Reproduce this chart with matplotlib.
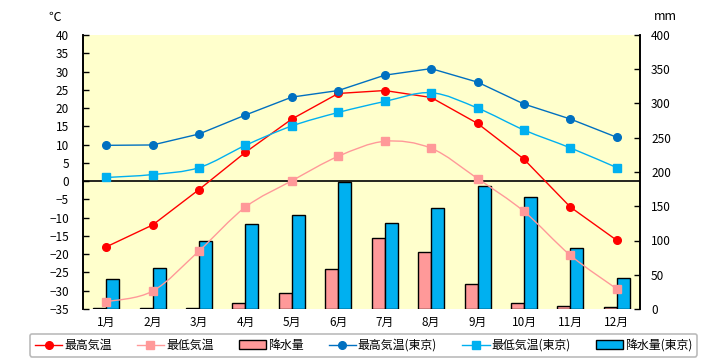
import numpy as np
import matplotlib
matplotlib.use("Agg")
import matplotlib.pyplot as plt
from matplotlib.path import Path
from matplotlib.patches import PathPatch, Patch
from matplotlib.lines import Line2D

plt.rcParams['font.family'] = ['Noto Sans CJK JP', 'DejaVu Sans']

months = ['1月', '2月', '3月', '4月', '5月', '6月', '7月', '8月', '9月', '10月', '11月', '12月']
tmax = [-18.0, -12.0, -2.3, 7.9, 17.0, 24.0, 24.8, 22.9, 15.8, 6.0, -7.1, -16.2]
tmin = [-33.0, -30.1, -19.1, -7.1, 0.1, 6.8, 10.9, 9.0, 0.7, -8.3, -20.3, -29.5]
rain = [2, 2, 2, 9, 24, 59, 103, 83, 37, 9, 4.5, 3]
tmax_tokyo = [9.8, 9.9, 12.9, 18.1, 23.0, 24.8, 29.0, 30.8, 27.1, 21.1, 17.0, 12.0]
tmin_tokyo = [1.0, 1.8, 3.7, 9.8, 15.1, 18.8, 21.8, 24.2, 20.0, 14.0, 9.1, 3.7]
rain_tokyo = [44, 60, 99, 124, 137, 185, 125, 147, 180, 163, 89, 45]

c_red = '#FF0000'
c_pink = '#FF9999'
c_blue = '#0070C0'
c_sky = '#00B0F0'


def smooth(ax, x, y, color, lw):
    # smoothed line (bezier through the points)
    x = np.asarray(x, float)
    y = np.asarray(y, float)
    p = np.column_stack((x, y))
    n = len(p)
    verts = [p[0]]
    codes = [Path.MOVETO]
    for i in range(n - 1):
        p0 = p[i - 1] if i > 0 else p[i]
        p3 = p[i + 2] if i + 2 < n else p[i + 1]
        c1 = p[i] + (p[i + 1] - p0) / 6
        c2 = p[i + 1] - (p3 - p[i]) / 6
        verts += [c1, c2, p[i + 1]]
        codes += [Path.CURVE4] * 3
    ax.add_patch(PathPatch(Path(verts, codes), fill=False, edgecolor=color,
                           lw=lw, zorder=3))


fig = plt.figure(figsize=(7.2, 3.6), dpi=100)
ax = fig.add_axes([83 / 720, 1 - 309 / 360, 557 / 720, 274 / 360])
ax2 = ax.twinx()
ax.set_zorder(ax2.get_zorder() + 1)
ax.patch.set_visible(False)
ax2.patch.set_visible(True)
ax2.patch.set_facecolor('#FFFFCC')

x = np.arange(len(months))
w = 0.28
ax2.bar(x - w / 2, rain, width=w, color=c_pink, edgecolor='black', lw=1)
ax2.bar(x + w / 2, rain_tokyo, width=w, color=c_sky, edgecolor='black', lw=1)
ax2.set_ylim(0, 400)
ax2.set_yticks(np.arange(0, 401, 50))

ax.axhline(0, color='black', lw=1.2, zorder=2)
ax.plot(x, tmax, '-', color=c_red, lw=1, zorder=3)
smooth(ax, x, tmin, c_pink, 1.0)
ax.plot(x, tmax_tokyo, '-', color=c_blue, lw=1, zorder=3)
smooth(ax, x, tmin_tokyo, c_sky, 1.0)
ax.plot(x, tmax, 'o', color=c_red, ms=5.5, zorder=4)
ax.plot(x, tmin, 's', color=c_pink, ms=5.5, zorder=4)
ax.plot(x, tmax_tokyo, 'o', color=c_blue, ms=5.5, zorder=4)
ax.plot(x, tmin_tokyo, 's', color=c_sky, ms=5.5, zorder=4)

ax.set_xlim(-0.5, 11.5)
ax.set_ylim(-35, 40)
ax.set_yticks(np.arange(-35, 41, 5))
ax.set_xticks(x)
ax.set_xticklabels(months)

for a in (ax, ax2):
    for s in ('top', 'bottom'):
        a.spines[s].set_visible(False)
    a.spines['left'].set_linewidth(1.2)
    a.spines['right'].set_linewidth(1.2)
ax.tick_params(axis='y', direction='in', length=4, width=1, pad=10, labelsize=8.5)
ax.tick_params(axis='x', length=0, pad=5, labelsize=8.5)
ax2.tick_params(axis='y', direction='in', length=4, width=1, pad=8, labelsize=8.5)
ax2.tick_params(axis='x', length=0)

fig.text(55 / 720, 1 - 17 / 360, '℃', ha='center', va='center', fontsize=9)
fig.text(665 / 720, 1 - 17 / 360, 'mm', ha='center', va='center', fontsize=9)

handles = [
    Line2D([], [], color=c_red, marker='o', ms=5.5, lw=1),
    Line2D([], [], color=c_pink, marker='s', ms=5.5, lw=1),
    Patch(facecolor=c_pink, edgecolor='black'),
    Line2D([], [], color=c_blue, marker='o', ms=5.5, lw=1),
    Line2D([], [], color=c_sky, marker='s', ms=5.5, lw=1),
    Patch(facecolor=c_sky, edgecolor='black'),
]
labels = ['最高気温', '最低気温', '降水量', '最高気温(東京)', '最低気温(東京)', '降水量(東京)']
leg = fig.legend(handles, labels, loc='lower center', bbox_to_anchor=(0.505, 0.003),
                 ncol=6, fontsize=8.6, frameon=True, fancybox=True,
                 handlelength=2.3, handletextpad=0.15, columnspacing=2.1,
                 borderpad=0.4, borderaxespad=0.2)
leg.get_frame().set_edgecolor('#AAAAAA')
leg.get_frame().set_linewidth(1.2)

fig.savefig('out.png', dpi=100)
